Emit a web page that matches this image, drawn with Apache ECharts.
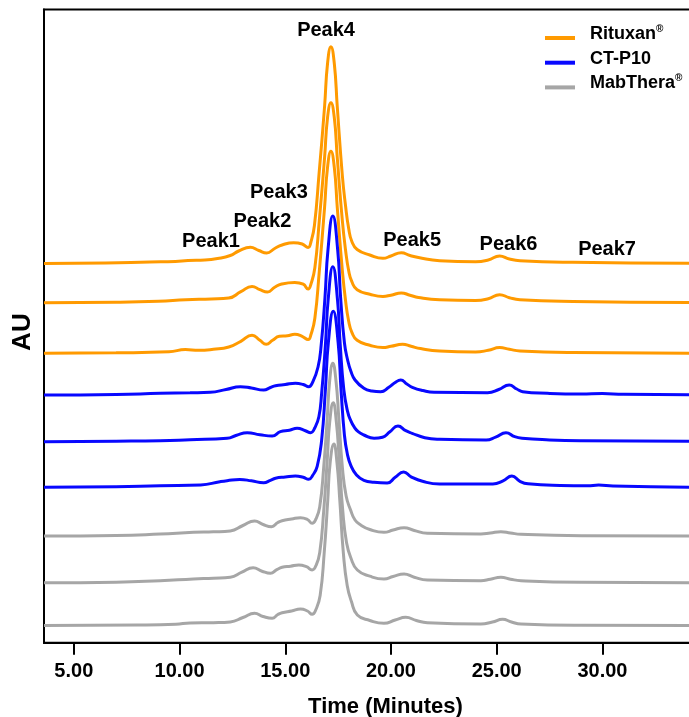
<!DOCTYPE html>
<html>
<head>
<meta charset="utf-8">
<script src="https://cdn.jsdelivr.net/npm/echarts@6/dist/echarts.min.js"></script>
<style>
html,body{margin:0;padding:0;background:#fff;}
#c{width:689px;height:717px;}
</style>
</head>
<body>
<div id="c"></div>
<script>
// ---------- data (time in minutes, signal height above each trace's baseline) ----------
const timeTicks = [5, 10, 15, 20, 25, 30];
const seriesNames = ['Rituxan®', 'CT-P10', 'MabThera®'];
const traceOffsets = [379.2, 340, 289.4, 247.7, 201, 155.4, 106.7, 60, 17.2];

const rituxan1 = [[3.59,0],[6.5,0.5],[8.6,1.5],[9.8,2],[10.4,3],[11.2,3.5],[11.8,5],[12.4,8],[12.8,12.5],[13.35,16.2],[13.75,13],[14.12,10.5],[14.5,15],[14.85,18.5],[15.4,20.8],[15.8,19.5],[16.08,16],[16.22,22],[16.38,38],[16.6,90],[16.86,157],[17.0,200],[17.16,216.8],[17.32,200],[17.46,157],[17.7,88],[17.85,58],[18.0,35],[18.15,22],[18.4,14],[19.0,8.5],[19.62,5.2],[20.0,7.5],[20.49,10.8],[20.9,8],[21.3,6],[22.3,2.8],[24.0,1.8],[24.6,3.5],[25.14,7.5],[25.6,4.5],[26.1,2.8],[28.6,1.2],[34.3,0.2]];
const rituxan2 = [[3.59,0],[7,0.5],[9,1.5],[10.3,3],[11.5,3.8],[12.33,4.7],[12.9,11],[13.43,16.3],[13.8,13],[14.16,10.7],[14.5,15.5],[14.83,18.7],[15.45,20.3],[15.85,18.5],[16.08,13.7],[16.22,19],[16.4,35],[16.61,82],[16.86,145],[17.0,185],[17.16,200],[17.32,185],[17.46,145],[17.7,82],[17.85,53],[18.0,32],[18.15,21],[18.4,13],[19.0,8.5],[19.62,6.3],[20.0,7.5],[20.49,9.7],[20.9,7.5],[21.3,5.3],[22.3,3],[24.0,2.3],[24.6,4],[25.14,8],[25.6,5],[26.1,3],[28.6,1.3],[34.3,0.3]];
const rituxan3 = [[3.59,0],[7,0.5],[9.5,1.5],[10.28,3.7],[10.9,3],[11.6,4],[12.33,6.3],[12.9,12],[13.43,18],[13.8,13],[14.1,9],[14.4,13],[14.72,17],[15.1,17.5],[15.45,19],[15.8,17],[16.08,13.7],[16.22,19],[16.4,35],[16.61,82],[16.86,146],[17.0,186],[17.16,202],[17.32,186],[17.46,146],[17.7,83],[17.85,53],[18.0,32],[18.15,21],[18.4,13],[19.0,8],[19.62,5.7],[20.0,7],[20.55,9],[20.95,7],[21.4,4.7],[22.3,2.3],[24.0,1.3],[24.6,3],[25.14,5.7],[25.6,4],[26.1,2.3],[28.6,0.7],[34.3,0]];

const ctp10_1 = [[3.59,0],[7,0.5],[9.08,1.7],[10.5,2.2],[11.45,2.7],[12.2,5.5],[12.88,8.3],[13.4,7],[13.98,5],[14.3,7.5],[14.54,9.3],[15.0,10.5],[15.48,11.7],[15.85,10.5],[16.11,8.3],[16.3,13],[16.55,28],[16.7,50],[16.88,98],[17.02,145],[17.25,179],[17.48,145],[17.62,97],[17.8,52],[17.95,35],[18.1,24],[18.3,15],[18.72,6.7],[19.1,4],[19.51,3.3],[19.9,7.7],[20.2,12.5],[20.46,15],[20.75,11],[21.01,7.7],[21.5,4.5],[22.04,2.7],[24.57,2.3],[25.1,5.5],[25.59,10],[25.95,6],[26.23,3.3],[27.4,1.7],[29,1],[30,1.5],[31,0.7],[34.3,0.3]];
const ctp10_2 = [[3.59,0],[7,0.5],[9.08,1],[10.5,2],[12.25,3.4],[12.7,6.5],[13.2,9],[13.8,7],[14.38,5.7],[14.77,10],[15.2,11.5],[15.56,13.4],[15.95,11],[16.2,9],[16.4,14],[16.59,25],[16.72,48],[16.9,97],[17.03,142],[17.25,175],[17.47,142],[17.6,97],[17.77,52],[17.95,30],[18.1,21],[18.25,15],[18.45,10],[18.72,6.7],[19.2,3.4],[19.6,4.5],[19.95,10],[20.33,15.7],[20.7,11],[21.0,8.4],[21.6,4],[22.3,2.4],[24.5,1.7],[24.95,4.5],[25.44,9],[25.85,5],[26.2,3.4],[27.5,1.8],[29,1],[34.3,0.3]];
const ctp10_3 = [[3.59,0],[7,0.5],[9.08,1.6],[11.0,2.3],[11.91,5.6],[12.25,6.6],[12.85,7.8],[13.4,6.5],[13.98,4.6],[14.3,7],[14.54,9],[15.0,10.3],[15.48,11.3],[15.85,10],[16.11,8],[16.3,12],[16.51,21],[16.72,47],[16.9,98],[17.04,145],[17.27,176],[17.5,145],[17.64,97],[17.8,52],[17.93,34],[18.1,22],[18.37,12.3],[18.72,7],[19.2,5],[19.82,4.3],[20.2,10],[20.6,15.3],[20.95,10.5],[21.49,6],[22.3,3.3],[24.82,3.3],[25.3,6.5],[25.72,11.3],[26.1,6],[26.48,3.5],[28,1.8],[29.3,1.5],[29.82,2.3],[30.5,1.3],[34.3,0]];

const mabthera1 = [[3.59,0],[7,0.5],[9.08,2],[10.66,3.7],[11.6,4.2],[12.4,5],[13.0,10.5],[13.55,15],[13.95,11.5],[14.35,9.3],[14.65,13.5],[14.85,15.3],[15.3,17],[15.72,18.3],[16.05,16.5],[16.27,12.7],[16.45,17],[16.63,29],[16.82,69],[16.99,119],[17.1,155],[17.25,172.7],[17.4,155],[17.53,119],[17.7,69],[17.88,40],[18.09,26],[18.3,16],[18.57,11],[19.0,6.5],[19.67,3.7],[20.1,6],[20.62,8.3],[21.1,5.5],[21.72,2.7],[24.25,2],[24.7,3],[25.2,4.3],[25.65,3],[26.15,1.7],[29,0.3],[34.3,0]];
const mabthera2 = [[3.59,0],[7,0.5],[9.08,2],[10.66,3.7],[11.6,4.5],[12.4,5.4],[12.95,10.5],[13.48,15],[13.9,11.5],[14.3,9.4],[14.6,13],[14.85,15.4],[15.25,16.5],[15.64,17.7],[16.0,16],[16.27,12.7],[16.45,17],[16.63,30],[16.82,72],[16.99,124],[17.1,160],[17.27,180],[17.42,160],[17.55,124],[17.72,72],[17.9,40],[18.1,25],[18.41,12.7],[19.0,6.5],[19.67,3.7],[20.1,6.2],[20.62,8.7],[21.1,5.5],[21.72,2.7],[24.25,2],[24.7,3.5],[25.2,5.4],[25.65,3.5],[26.15,2],[29,0.4],[34.3,0]];
const mabthera3 = [[3.59,0],[8,0.5],[9.83,1.3],[10.5,2.5],[11.6,2.8],[12.4,3.5],[13.0,8],[13.55,12.2],[13.95,9],[14.38,7.2],[14.65,11],[14.85,12.8],[15.3,14.5],[15.72,16.5],[16.05,14.5],[16.27,11.2],[16.45,16],[16.65,30],[16.84,72],[17.01,125],[17.12,162],[17.3,181.5],[17.45,162],[17.58,125],[17.75,72],[17.93,40],[18.13,24],[18.41,10.5],[19.0,5],[19.67,2.2],[20.2,5.5],[20.7,8.2],[21.2,5],[21.72,2.8],[24.25,1.5],[24.8,3.5],[25.28,6.2],[25.7,3.5],[26.15,1.5],[29,0.2],[34.3,0]];

const peakLabels = [
  {name: 'Peak1', t: 11.49, v: 401.7},
  {name: 'Peak2', t: 13.92, v: 421.7},
  {name: 'Peak3', t: 14.70, v: 450.2},
  {name: 'Peak4', t: 16.93, v: 612.7},
  {name: 'Peak5', t: 21.00, v: 402.7},
  {name: 'Peak6', t: 25.56, v: 398.7},
  {name: 'Peak7', t: 30.22, v: 393.7}
];

// ---------- chart ----------
const colors = {'Rituxan®': '#ff9a00', 'CT-P10': '#0808ff', 'MabThera®': '#a6a6a6'};
const traces = [
  [seriesNames[0], rituxan1], [seriesNames[0], rituxan2], [seriesNames[0], rituxan3],
  [seriesNames[1], ctp10_1], [seriesNames[1], ctp10_2], [seriesNames[1], ctp10_3],
  [seriesNames[2], mabthera1], [seriesNames[2], mabthera2], [seriesNames[2], mabthera3]
];
const sans = "'Liberation Sans',Arial,Helvetica,sans-serif";

const series = traces.map(([name, pts], i) => ({
  name: name,
  type: 'line',
  data: pts.map(p => [p[0], p[1] + traceOffsets[i]]),
  showSymbol: false,
  smooth: 0.5,
  color: colors[name],
  lineStyle: {width: 3, color: colors[name]},
  silent: true,
  z: 2
}));

series[0].markPoint = {
  symbol: 'circle',
  symbolSize: 1,
  itemStyle: {color: 'rgba(0,0,0,0)'},
  silent: true,
  label: {show: true, position: 'inside', formatter: '{b}', color: '#000',
          fontFamily: sans, fontWeight: 'bold', fontSize: 20},
  data: peakLabels.map(p => ({name: p.name, coord: [p.t, p.v]}))
};

const chart = echarts.init(document.getElementById('c'), null, {renderer: 'canvas'});
chart.setOption({
  animation: false,
  backgroundColor: '#fff',
  grid: {left: 44, right: -2, top: 9.5, bottom: 74.3, show: true,
         outerBoundsMode: 'none', containLabel: false,
         borderColor: '#000', borderWidth: 2, backgroundColor: 'transparent'},
  legend: {
    data: seriesNames,
    orient: 'vertical',
    left: 540, top: 19,
    itemWidth: 30, itemHeight: 4, itemGap: -3.3,
    icon: 'rect',
    formatter: n => n.replace('®', '{s|®}'),
    textStyle: {fontFamily: sans, fontSize: 18, fontWeight: 'bold', color: '#000',
                lineHeight: 20, padding: [0, 0, 8, 10],
                rich: {s: {fontFamily: sans, fontSize: 10, fontWeight: 'bold', color: '#000',
                           verticalAlign: 'top', lineHeight: 10}}}
  },
  xAxis: {
    type: 'value', min: 3.59, max: 34.19,
    name: 'Time (Minutes)', nameLocation: 'middle', nameGap: 53,
    nameTextStyle: {fontFamily: sans, fontSize: 22, fontWeight: 'bold', color: '#000', padding: [0, 0, 0, 36]},
    axisLine: {show: true, lineStyle: {color: '#000', width: 2}},
    axisTick: {show: true, length: 12, lineStyle: {color: '#000', width: 2}, customValues: timeTicks},
    axisLabel: {show: true, customValues: timeTicks, formatter: v => v.toFixed(2), margin: 19,
                fontFamily: sans, fontSize: 20, fontWeight: 'bold', color: '#000'},
    splitLine: {show: false}
  },
  yAxis: {
    type: 'value', min: 0, max: 633.2,
    name: 'AU', nameLocation: 'middle', nameGap: 8,
    nameTextStyle: {fontFamily: sans, fontSize: 26, fontWeight: 'bold', color: '#000', padding: [0, 12, 0, 0]},
    axisLine: {show: true, lineStyle: {color: '#000', width: 2}},
    axisTick: {show: false},
    axisLabel: {show: false},
    splitLine: {show: false}
  },
  series: series
});
</script>
</body>
</html>
